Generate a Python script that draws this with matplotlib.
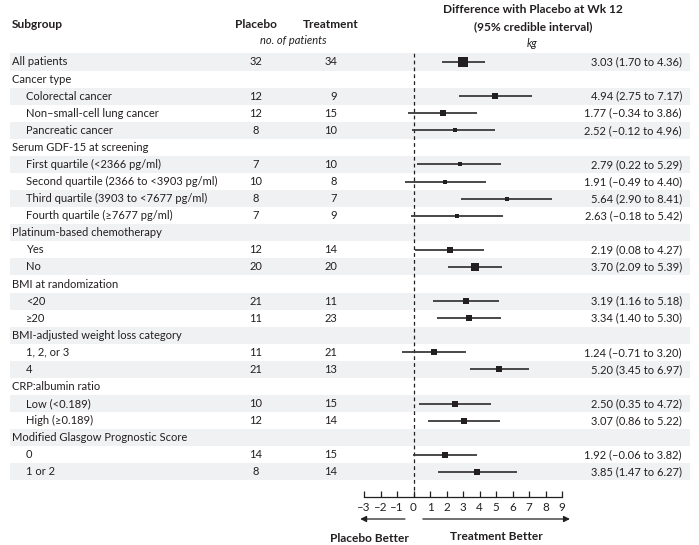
import matplotlib
matplotlib.use("Agg")
import matplotlib.pyplot as plt
import numpy as np

plt.rcParams['font.family'] = ['Lato', 'DejaVu Sans']

# data (None = group header row)
labels = ["All patients",
          "Cancer type", "Colorectal cancer", "Non\u2013small-cell lung cancer", "Pancreatic cancer",
          "Serum GDF-15 at screening", "First quartile (<2366 pg/ml)",
          "Second quartile (2366 to <3903 pg/ml)", "Third quartile (3903 to <7677 pg/ml)",
          "Fourth quartile (\u22657677 pg/ml)",
          "Platinum-based chemotherapy", "Yes", "No",
          "BMI at randomization", "<20", "\u226520",
          "BMI-adjusted weight loss category", "1, 2, or 3", "4",
          "CRP:albumin ratio", "Low (<0.189)", "High (\u22650.189)",
          "Modified Glasgow Prognostic Score", "0", "1 or 2"]
indent = [0, 0, 1, 1, 1, 0, 1, 1, 1, 1, 0, 1, 1, 0, 1, 1, 0, 1, 1, 0, 1, 1, 0, 1, 1]
placebo_n = [32, None, 12, 12, 8, None, 7, 10, 8, 7, None, 12, 20, None, 21, 11,
             None, 11, 21, None, 10, 12, None, 14, 8]
treat_n = [34, None, 9, 15, 10, None, 10, 8, 7, 9, None, 14, 20, None, 11, 23,
           None, 21, 13, None, 15, 14, None, 15, 14]
est = [3.03, None, 4.94, 1.77, 2.52, None, 2.79, 1.91, 5.64, 2.63, None, 2.19, 3.70,
       None, 3.19, 3.34, None, 1.24, 5.20, None, 2.50, 3.07, None, 1.92, 3.85]
lo = [1.70, None, 2.75, -0.34, -0.12, None, 0.22, -0.49, 2.90, -0.18, None, 0.08, 2.09,
      None, 1.16, 1.40, None, -0.71, 3.45, None, 0.35, 0.86, None, -0.06, 1.47]
hi = [4.36, None, 7.17, 3.86, 4.96, None, 5.29, 4.40, 8.41, 5.42, None, 4.27, 5.39,
      None, 5.18, 5.30, None, 3.20, 6.97, None, 4.72, 5.22, None, 3.82, 6.27]
xticks = list(range(-3, 10))

W, H = 699, 545
row_h = 17.08      # px per row
row0 = 62.0        # px of first row centre
fs = 8
hfs = 8.6          # bold headers a bit larger

def px2row(py):
    return (py - row0) / row_h

fig = plt.figure(figsize=(W / 100, H / 100), dpi=100)

# background axes in pixel x / row y
bg = fig.add_axes([0, 0, 1, 1])
bg.set_xlim(0, W)
bg.set_ylim(px2row(H), px2row(0))
bg.axis('off')

n_rows = len(labels)
for i in range(n_rows):
    if i % 2 == 0:
        bg.axhspan(i - 0.5, i + 0.5, xmin=10 / W, xmax=690 / W, color='#f0f1f3', lw=0)
    x = 26 if indent[i] else 12
    bg.text(x, i, labels[i], fontsize=fs, va='center', ha='left', color='#231f20')
    if placebo_n[i] is not None:
        bg.text(256, i, str(placebo_n[i]), fontsize=fs, va='center', ha='center', color='#231f20')
        bg.text(337, i, str(treat_n[i]), fontsize=fs, va='center', ha='right', color='#231f20')
        s = f"{est[i]:.2f} ({lo[i]:.2f} to {hi[i]:.2f})".replace('-', '\u2013')
        bg.text(682, i, s, fontsize=fs, va='center', ha='right', color='#231f20')

# headers
bg.text(12, px2row(25), "Subgroup", fontsize=hfs, fontweight='bold', va='center', ha='left',
        color='#231f20')
bg.text(256, px2row(25), "Placebo", fontsize=hfs, fontweight='bold', va='center', ha='center',
        color='#231f20')
bg.text(331, px2row(25), "Treatment", fontsize=hfs, fontweight='bold', va='center', ha='center',
        color='#231f20')
bg.text(293, px2row(41), "no. of patients", fontsize=fs, style='italic', va='center', ha='center',
        color='#231f20')
bg.text(533, px2row(10), "Difference with Placebo at Wk 12", fontsize=hfs, fontweight='bold',
        va='center', ha='center', color='#231f20')
bg.text(533, px2row(27), "(95% credible interval)", fontsize=hfs, fontweight='bold',
        va='center', ha='center', color='#231f20')
bg.text(532, px2row(44), "kg", fontsize=fs, style='italic', va='center', ha='center',
        color='#231f20')

# forest axes
x0_px, x1_px = 364, 562
top_px, bot_px = 53, 496.5
ax = fig.add_axes([x0_px / W, (H - bot_px) / H, (x1_px - x0_px) / W, (bot_px - top_px) / H])
ax.patch.set_alpha(0)
ax.set_xlim(-3, 9)
ax.set_ylim(px2row(bot_px), px2row(top_px))
for sp in ['top', 'left', 'right']:
    ax.spines[sp].set_visible(False)
ax.spines['bottom'].set_color('#231f20')
ax.spines['bottom'].set_linewidth(0.9)
ax.set_yticks([])
ax.set_xticks(xticks)
ax.set_xticklabels([str(t).replace('-', '\u2013') for t in xticks])
ax.tick_params(axis='x', direction='in', length=4, width=0.9, color='#231f20',
               labelsize=8.4, pad=4, labelcolor='#231f20')

ax.axvline(0, color='#231f20', lw=0.9, ls=(0, (3, 2.5)))

for i in range(n_rows):
    if est[i] is None:
        continue
    ax.plot([lo[i], hi[i]], [i, i], color='#3a3a3a', lw=1.3, clip_on=False, solid_capstyle='butt')
    n = placebo_n[i] + treat_n[i]
    ax.plot(est[i], i, marker='s', color='#231f20', ms=0.8 * np.sqrt(n), mew=0, clip_on=False)

# arrows and direction labels
arr_y = 1 - 519 / H
ax.annotate('', xy=(-3.4, arr_y), xytext=(-0.35, arr_y),
            xycoords=('data', 'figure fraction'), textcoords=('data', 'figure fraction'),
            arrowprops=dict(arrowstyle='-|>', color='#231f20', lw=0.9, mutation_scale=9))
ax.annotate('', xy=(9.65, arr_y), xytext=(0.4, arr_y),
            xycoords=('data', 'figure fraction'), textcoords=('data', 'figure fraction'),
            arrowprops=dict(arrowstyle='-|>', color='#231f20', lw=0.9, mutation_scale=9))
ax.annotate('Placebo Better', xy=(-2.7, 1 - 539 / H), xycoords=('data', 'figure fraction'),
            ha='center', va='center', fontsize=hfs, fontweight='bold', color='#231f20')
ax.annotate('Treatment Better', xy=(5.05, 1 - 537 / H), xycoords=('data', 'figure fraction'),
            ha='center', va='center', fontsize=hfs, fontweight='bold', color='#231f20')

fig.savefig('out.png', dpi=100)
